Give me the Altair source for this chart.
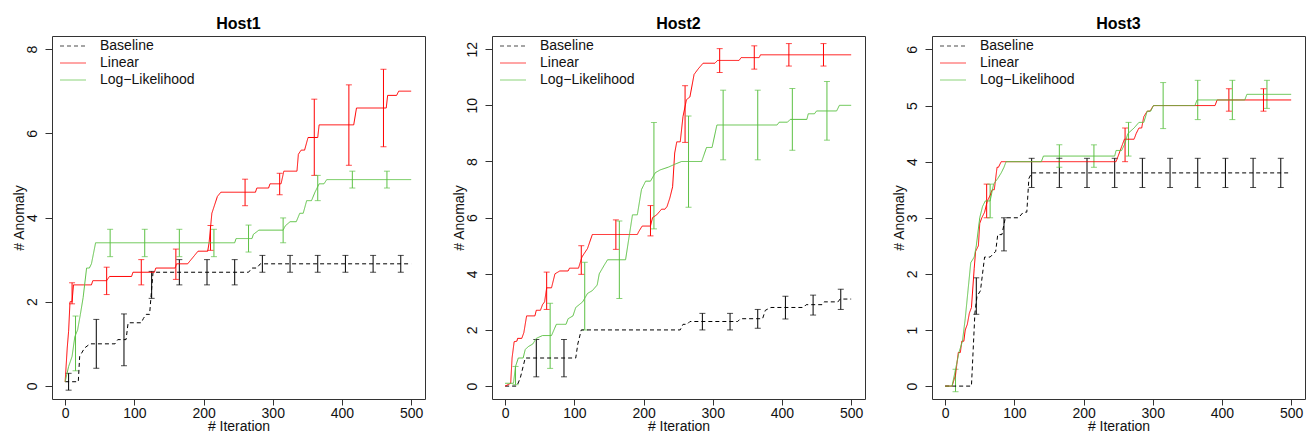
import altair as alt
import pandas as pd

SERIES = ["Baseline", "Linear", "Log\u2212Likelihood"]
COLORS = ["#000000", "#ff0000", "#5cc144"]
DASHES = [[4, 3], [1, 0], [1, 0]]
HOSTS = ["Host1", "Host2", "Host3"]
X_TICKS = [0, 100, 200, 300, 400, 500]
Y_TICKS = [[0, 2, 4, 6, 8], [0, 2, 4, 6, 8, 10, 12], [0, 1, 2, 3, 4, 5, 6]]
Y_DOMAINS = [[-0.31, 8.31], [-0.46, 12.47], [-0.23, 6.24]]

# error-bar iterations of each series
BASE_ERR_X = [5, 45, 85, 125, 165, 205, 245, 285, 325, 365, 405, 445, 485]
LIN_ERR_X = [10, 60, 110, 160, 210, 260, 310, 360, 410, 460]
LOG_ERR_X = [15, 65, 115, 165, 215, 265, 315, 365, 415, 465]

# ---------------- Host1 ----------------
H1_BASE_X = [0, 19, 21, 28, 36, 72, 76, 88, 91, 110, 113, 117, 122, 124, 127, 265, 270, 277, 282, 500]
H1_BASE_Y = [0.1, 0.1, 0.7, 0.9, 1.0, 1.0, 1.1, 1.1, 1.5, 1.5, 1.6, 1.7, 1.7, 2.1, 2.7, 2.7, 2.8, 2.8, 2.9, 2.9]
H1_BASE_LO = [-0.1, 0.42, 0.48, 2.08, 2.4, 2.4, 2.4, 2.7, 2.7, 2.7, 2.7, 2.7, 2.7]
H1_BASE_HI = [0.3, 1.58, 1.71, 2.72, 3.0, 3.0, 3.0, 3.1, 3.1, 3.1, 3.1, 3.1, 3.1]

H1_LIN_X = [0, 3, 5, 7, 10, 12, 38, 40, 60, 64, 96, 98, 129, 131, 159, 161, 177, 182, 187, 192,
            206, 208, 212, 216, 220, 225, 275, 277, 294, 296, 312, 316, 335, 337, 341, 346, 351,
            365, 367, 417, 421, 464, 466, 479, 482, 500]
H1_LIN_Y = [0.1, 0.9, 1.3, 2.0, 2.0, 2.4, 2.4, 2.5, 2.5, 2.6, 2.6, 2.7, 2.7, 2.8, 2.8, 2.9, 2.9, 3.0, 3.1, 3.2,
            3.2, 3.4, 4.1, 4.3, 4.5, 4.6, 4.6, 4.7, 4.7, 4.8, 4.8, 5.1, 5.1, 5.5, 5.6, 5.6, 5.9,
            5.9, 6.2, 6.2, 6.6, 6.6, 6.9, 6.9, 7.0, 7.0]
H1_LIN_LO = [1.95, 2.17, 2.4, 2.53, 3.22, 4.28, 4.54, 5.0, 5.24, 5.68]
H1_LIN_HI = [2.45, 2.82, 3.0, 3.25, 3.81, 4.91, 5.05, 6.81, 7.15, 7.52]

H1_LOG_X = [0, 5, 10, 14, 18, 22, 26, 31, 35, 38, 44, 245, 247, 270, 272, 280, 315, 318, 325, 334,
            339, 344, 349, 356, 361, 367, 374, 378, 500]
H1_LOG_Y = [0.1, 0.46, 0.7, 1.17, 1.33, 1.7, 2.1, 2.8, 2.8, 2.9, 3.4, 3.4, 3.5, 3.5, 3.6, 3.7, 3.7, 3.8, 3.9, 3.9,
            4.1, 4.1, 4.4, 4.4, 4.6, 4.8, 4.8, 4.9, 4.9]
H1_LOG_LO = [0.36, 3.07, 3.07, 3.07, 3.07, 3.18, 3.4, 4.4, 4.7, 4.7]
H1_LOG_HI = [1.66, 3.72, 3.72, 3.72, 3.72, 3.82, 3.99, 5.0, 5.1, 5.1]

# ---------------- Host2 ----------------
H2_BASE_X = [0, 17, 22, 29, 102, 105, 110, 253, 257, 263, 267, 336, 340, 372, 376, 384, 431, 435, 458, 461, 481, 484, 500]
H2_BASE_Y = [0, 0, 0.3, 1.0, 1.0, 1.5, 2.0, 2.0, 2.2, 2.2, 2.3, 2.3, 2.4, 2.4, 2.7, 2.8, 2.8, 2.9, 2.9, 3.0, 3.0, 3.1, 3.1]
H2_BASE_LO = [0, 0.33, 0.33, 2.0, 2.0, 2.0, 2.0, 2.0, 2.0, 2.06, 2.39, 2.53, 2.73]
H2_BASE_HI = [0, 1.66, 1.66, 2.0, 2.0, 2.0, 2.0, 2.59, 2.59, 2.73, 3.2, 3.24, 3.45]

H2_LIN_X = [0, 8, 10, 13, 17, 18, 24, 27, 31, 43, 45, 51, 54, 57, 60, 67, 72, 79, 91, 93,
            106, 111, 119, 126, 191, 193, 198, 210, 213, 219, 226, 231, 234, 238, 242, 245, 248, 253, 257, 262,
            267, 273, 279, 286, 303, 307, 338, 341, 367, 369, 500]
H2_LIN_Y = [0, 0.1, 1.0, 1.58, 1.6, 1.7, 1.7, 1.9, 2.5, 2.5, 2.7, 2.7, 2.9, 3.0, 3.5, 3.5, 4.0, 4.1, 4.1, 4.2,
            4.2, 4.6, 4.9, 5.4, 5.4, 5.5, 5.7, 5.7, 6.0, 6.1, 6.3, 6.3, 6.4, 6.7, 7.1, 8.3, 8.7, 8.7, 9.6, 10.2,
            10.3, 11.1, 11.3, 11.5, 11.5, 11.6, 11.6, 11.7, 11.7, 11.8, 11.8]
H2_LIN_LO = [0.1, 2.73, 3.98, 4.87, 5.35, 8.68, 11.17, 11.29, 11.4, 11.4]
H2_LIN_HI = [0.1, 4.06, 5.0, 5.92, 6.43, 10.7, 12.02, 12.12, 12.2, 12.2]

H2_LOG_X = [0, 12, 15, 19, 26, 29, 33, 40, 45, 54, 67, 74, 88, 91, 98, 102, 112, 119, 126, 133,
            136, 143, 148, 174, 179, 184, 191, 197, 203, 210, 217, 224, 236, 245, 255, 284, 291, 299, 306, 393,
            396, 408, 412, 436, 438, 447, 450, 479, 483, 500]
H2_LOG_Y = [0.1, 0.1, 0.7, 1.0, 1.0, 1.3, 1.4, 1.5, 1.7, 1.8, 1.8, 2.2, 2.2, 2.4, 2.5, 2.8, 3.0, 3.3, 3.4, 3.6,
            4.0, 4.3, 4.5, 4.5, 5.3, 6.1, 6.1, 7.0, 7.3, 7.3, 7.6, 7.7, 7.8, 7.9, 8.0, 8.0, 8.5, 8.5, 9.3, 9.3,
            9.4, 9.4, 9.5, 9.5, 9.7, 9.7, 9.8, 9.8, 10.0, 10.0]
H2_LOG_LO = [0.05, 0.63, 2.0, 3.12, 5.6, 6.37, 8.06, 8.06, 8.4, 8.76]
H2_LOG_HI = [0.7, 2.95, 4.41, 5.88, 9.39, 9.62, 10.54, 10.54, 10.6, 10.85]

# ---------------- Host3 ----------------
H3_BASE_X = [0, 38, 43, 46, 51, 57, 65, 73, 76, 82, 87, 106, 113, 118, 121, 125, 500]
H3_BASE_Y = [0, 0, 1.3, 1.6, 1.7, 2.3, 2.3, 2.4, 2.7, 2.7, 3.0, 3.0, 3.1, 3.1, 3.7, 3.8, 3.8]
H3_BASE_LO = [0, 1.28, 2.41, 3.54, 3.54, 3.54, 3.54, 3.54, 3.54, 3.54, 3.54, 3.54, 3.54]
H3_BASE_HI = [0, 1.93, 3.0, 4.06, 4.06, 4.06, 4.06, 4.06, 4.06, 4.06, 4.06, 4.06, 4.06]

H3_LIN_X = [0, 10, 15, 19, 22, 24, 27, 29, 32, 35, 38, 42, 44, 48, 50, 53, 57, 61, 65, 68,
            71, 75, 77, 81, 247, 250, 256, 259, 273, 276, 280, 284, 287, 292, 296, 301, 390, 393, 500]
H3_LIN_Y = [0, 0, 0.2, 0.6, 0.6, 0.8, 0.8, 1.0, 1.1, 1.3, 1.4, 2.1, 2.4, 2.5, 2.9, 3.0, 3.1, 3.3, 3.4, 3.5,
            3.5, 3.9, 3.9, 4.0, 4.0, 4.1, 4.3, 4.4, 4.4, 4.5, 4.6, 4.6, 4.8, 4.9, 4.9, 5.0, 5.0, 5.1, 5.1]
H3_LIN_LO = [0, 3.0, 4.0, 4.0, 4.0, 4.0, 5.0, 5.0, 4.9, 4.9]
H3_LIN_HI = [0, 3.6, 4.0, 4.0, 4.0, 4.6, 5.0, 5.0, 5.3, 5.3]

H3_LOG_X = [0, 10, 15, 20, 25, 29, 33, 37, 42, 45, 50, 54, 58, 65, 70, 76, 81, 85, 88, 139,
            142, 245, 247, 255, 259, 264, 273, 280, 287, 292, 297, 301, 361, 364, 433, 436, 500]
H3_LOG_Y = [0, 0, 0.3, 0.6, 0.8, 1.2, 1.7, 2.2, 2.3, 2.5, 3.0, 3.2, 3.3, 3.3, 3.6, 3.7, 3.8, 3.9, 4.0, 4.0,
            4.1, 4.1, 4.2, 4.2, 4.3, 4.5, 4.6, 4.7, 4.7, 4.9, 4.9, 5.0, 5.0, 5.1, 5.1, 5.2, 5.2]
H3_LOG_LO = [-0.1, 3.0, 4.0, 3.9, 3.9, 4.1, 4.59, 4.75, 4.75, 4.95]
H3_LOG_HI = [0.3, 3.6, 4.0, 4.3, 4.3, 4.7, 5.41, 5.45, 5.45, 5.45]

LINES = [
    [(H1_BASE_X, H1_BASE_Y), (H1_LIN_X, H1_LIN_Y), (H1_LOG_X, H1_LOG_Y)],
    [(H2_BASE_X, H2_BASE_Y), (H2_LIN_X, H2_LIN_Y), (H2_LOG_X, H2_LOG_Y)],
    [(H3_BASE_X, H3_BASE_Y), (H3_LIN_X, H3_LIN_Y), (H3_LOG_X, H3_LOG_Y)],
]
ERRS = [
    [(BASE_ERR_X, H1_BASE_LO, H1_BASE_HI), (LIN_ERR_X, H1_LIN_LO, H1_LIN_HI), (LOG_ERR_X, H1_LOG_LO, H1_LOG_HI)],
    [(BASE_ERR_X, H2_BASE_LO, H2_BASE_HI), (LIN_ERR_X, H2_LIN_LO, H2_LIN_HI), (LOG_ERR_X, H2_LOG_LO, H2_LOG_HI)],
    [(BASE_ERR_X, H3_BASE_LO, H3_BASE_HI), (LIN_ERR_X, H3_LIN_LO, H3_LIN_HI), (LOG_ERR_X, H3_LOG_LO, H3_LOG_HI)],
]

FONT = "Liberation Sans"
TXT = "#111111"
PLOT_W, PLOT_H = 373, 363


def panel(i):
    rows = []
    for s, (xs, ys) in enumerate(LINES[i]):
        assert len(xs) == len(ys), (i, s)
        for k, (a, b) in enumerate(zip(xs, ys)):
            rows.append({"x": a, "y": b, "series": SERIES[s], "k": k})
    line_df = pd.DataFrame(rows)

    erows = []
    for s, (xs, lo, hi) in enumerate(ERRS[i]):
        assert len(xs) == len(lo) == len(hi), (i, s)
        for a, l, h in zip(xs, lo, hi):
            if h > l:
                erows.append({"x": a, "lo": l, "hi": h, "series": SERIES[s], "col": COLORS[s]})
    err_df = pd.DataFrame(erows)

    xenc = alt.X("x:Q", scale=alt.Scale(domain=[-19, 520], nice=False, zero=False),
                 axis=alt.Axis(values=X_TICKS, title="# Iteration", format="d"))
    yscale = alt.Scale(domain=Y_DOMAINS[i], nice=False, zero=False)
    yaxis = alt.Axis(values=Y_TICKS[i], title="# Anomaly", format="d", labelAngle=270,
                     labelAlign="center", labelBaseline="bottom")

    lines = alt.Chart(line_df).mark_line(strokeWidth=1, clip=True).encode(
        x=xenc,
        y=alt.Y("y:Q", scale=yscale, axis=yaxis),
        color=alt.Color("series:N", scale=alt.Scale(domain=SERIES, range=COLORS),
                        legend=alt.Legend(title=None)),
        strokeDash=alt.StrokeDash("series:N", scale=alt.Scale(domain=SERIES, range=DASHES),
                                  legend=alt.Legend(title=None)),
        order="k:Q",
    )
    base = alt.Chart(err_df).encode(x=alt.X("x:Q"), color=alt.Color("col:N", scale=None))
    rules = base.mark_rule(strokeWidth=1).encode(y=alt.Y("lo:Q"), y2="hi:Q")
    lo_caps = base.mark_tick(orient="horizontal", size=6, thickness=1).encode(y=alt.Y("lo:Q"))
    hi_caps = base.mark_tick(orient="horizontal", size=6, thickness=1).encode(y=alt.Y("hi:Q"))

    return alt.layer(rules, lo_caps, hi_caps, lines).properties(
        width=PLOT_W, height=PLOT_H,
        title=alt.TitleParams(HOSTS[i], fontSize=16, fontWeight="bold", font=FONT,
                              color="#000000", frame="group", anchor="middle", offset=4),
    )


chart = alt.hconcat(panel(0), panel(1), panel(2), spacing=25).resolve_scale(
    y="independent", color="independent", strokeDash="independent"
).resolve_legend(color="independent", strokeDash="independent").properties(
    padding={"left": 3, "top": 7, "right": 0, "bottom": -2}
).configure(font=FONT).configure_view(
    stroke="#333333", strokeWidth=1
).configure_axis(
    grid=False, domain=False, tickSize=7, tickColor="#333333", tickWidth=1,
    labelFont=FONT, labelFontSize=14, labelColor=TXT, labelPadding=3,
    titleFont=FONT, titleFontSize=14, titleFontWeight="normal", titleColor=TXT,
).configure_axisX(tickSize=6, labelPadding=1, titlePadding=-1).configure_axisY(
    labelPadding=6, titlePadding=-1
).configure_legend(
    orient="none", legendX=14, legendY=3, padding=0,
    symbolType="M-2,0H2", symbolSize=169, symbolStrokeWidth=1,
    labelFont=FONT, labelFontSize=14, labelColor=TXT, labelOffset=20,
    rowPadding=3,
)

chart.save("out.html", embed_options={"renderer": "svg", "actions": False})
